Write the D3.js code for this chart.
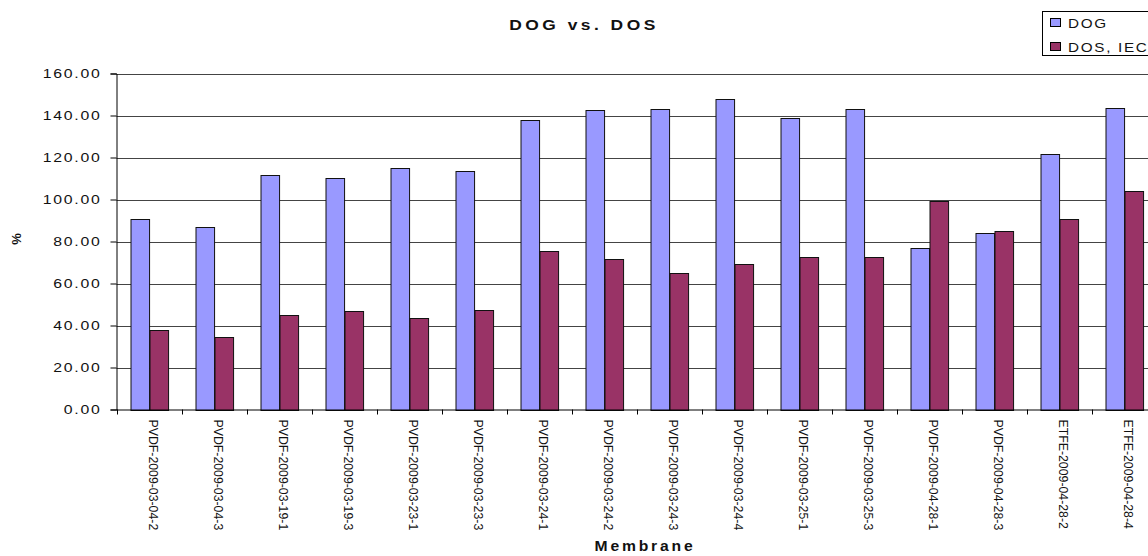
<!DOCTYPE html>
<html>
<head>
<meta charset="utf-8">
<script src="https://cdn.jsdelivr.net/npm/d3@7"></script>
<style>
  html, body { margin: 0; padding: 0; background: #fff; }
  svg { display: block; font-family: Arial, "Liberation Sans", sans-serif; }
</style>
</head>
<body>
<svg id="chart" width="1148" height="556"></svg>
<script>
// Membrane samples on the category axis
const categories = [
  "PVDF-2009-03-04-2", "PVDF-2009-03-04-3", "PVDF-2009-03-19-1", "PVDF-2009-03-19-3",
  "PVDF-2009-03-23-1", "PVDF-2009-03-23-3", "PVDF-2009-03-24-1", "PVDF-2009-03-24-2",
  "PVDF-2009-03-24-3", "PVDF-2009-03-24-4", "PVDF-2009-03-25-1", "PVDF-2009-03-25-3",
  "PVDF-2009-04-28-1", "PVDF-2009-04-28-3", "ETFE-2009-04-28-2", "ETFE-2009-04-28-4"
];
const seriesNames = ["DOG", "DOS, IEC"];
const dogValues = [90.5, 86.7, 111.7, 110.3, 114.9, 113.8, 137.8, 142.5,
                   143.0, 147.9, 138.7, 143.0, 76.7, 84.1, 121.7, 143.6];
const dosValues = [37.8, 34.4, 45.2, 46.8, 43.5, 47.3, 75.5, 71.7,
                   64.9, 69.2, 72.7, 72.4, 99.5, 85.2, 90.9, 104.1];
const yTicks = [0, 20, 40, 60, 80, 100, 120, 140, 160];
const seriesColors = ["#9999FF", "#993366"];

const svg = d3.select("#chart");

const plotLeft = 116.5, plotRight = 1156.5, plotTop = 73.5, plotBottom = 409.5;

// Horizontal text is drawn slightly wide, like the exported chart's typeface
function widen(sel, k) {
  sel.each(function () {
    const w = this.getComputedTextLength();
    d3.select(this).attr("textLength", w * k).attr("lengthAdjust", "spacingAndGlyphs");
  });
}

const x0 = d3.scaleBand().domain(categories).range([plotLeft, plotRight]).padding(0);
const x1 = d3.scaleBand().domain(seriesNames).range([0, x0.bandwidth()])
  .paddingInner(0).paddingOuter(0.75);
const y = d3.scaleLinear().domain([0, 160]).range([plotBottom, plotTop]);
const color = d3.scaleOrdinal().domain(seriesNames).range(seriesColors);

// Horizontal gridlines
svg.append("g")
  .selectAll("line")
  .data(yTicks.filter(t => t > 0))
  .join("line")
  .attr("x1", plotLeft).attr("x2", plotRight)
  .attr("y1", d => Math.round(y(d)) + 0.5).attr("y2", d => Math.round(y(d)) + 0.5)
  .attr("stroke", "#444").attr("stroke-width", 1);

// Bars
const rows = categories.map((c, i) => ({ cat: c, vals: [dogValues[i], dosValues[i]] }));
const groups = svg.append("g").selectAll("g")
  .data(rows)
  .join("g")
  .attr("transform", d => `translate(${x0(d.cat)},0)`);

groups.selectAll("rect")
  .data(d => seriesNames.map((s, k) => ({ s, v: d.vals[k] })))
  .join("rect")
  .attr("x", d => Math.round(x1(d.s)) + 0.5)
  .attr("width", x1.bandwidth())
  .attr("y", d => Math.round(y(d.v)) + 0.5)
  .attr("height", d => Math.round(y(0)) - Math.round(y(d.v)))
  .attr("fill", d => color(d.s))
  .attr("stroke", "#111")
  .attr("stroke-width", 1);

// Y axis
const yAxis = d3.axisLeft(y).tickValues(yTicks).tickFormat(d3.format(".2f")).tickSize(6).tickPadding(10);
const gy = svg.append("g").attr("transform", `translate(${plotLeft},0)`).call(yAxis);
gy.select(".domain").attr("stroke", "#000");
gy.selectAll(".tick line").attr("stroke", "#000");
gy.selectAll(".tick text")
  .attr("fill", "#111")
  .style("font-size", "13.5px")
  .style("letter-spacing", "1.5px")
  .attr("dx", "1px")
  .call(widen, 1.17);

// X axis: labels centred on each band, tick marks on band edges
const xAxis = d3.axisBottom(x0).tickSize(0).tickPadding(0);
const gx = svg.append("g").attr("transform", `translate(0,${plotBottom})`).call(xAxis);
gx.select(".domain").attr("stroke", "#000").attr("d", `M${plotLeft},0.5H${plotRight}`);
gx.selectAll(".tick text")
  .attr("fill", "#111")
  .style("font-size", "12.3px")
  .attr("text-anchor", "start")
  .attr("transform", "translate(4,10) rotate(90)")
  .attr("x", 0).attr("y", 0).attr("dy", "0.35em");

svg.append("g").selectAll("line")
  .data(categories.map(c => x0(c)).concat([plotRight]))
  .join("line")
  .attr("x1", d => Math.round(d) + 0.5).attr("x2", d => Math.round(d) + 0.5)
  .attr("y1", plotBottom).attr("y2", plotBottom + 5)
  .attr("stroke", "#000");

// Titles
svg.append("text")
  .attr("x", 584).attr("y", 30)
  .attr("text-anchor", "middle")
  .style("font-size", "15px").style("font-weight", "bold")
  .style("letter-spacing", "3px")
  .attr("fill", "#111")
  .text("DOG vs. DOS")
  .call(widen, 1.16);

svg.append("text")
  .attr("x", 645).attr("y", 551)
  .attr("text-anchor", "middle")
  .style("font-size", "14px").style("font-weight", "bold")
  .style("letter-spacing", "2.5px")
  .attr("fill", "#111")
  .text("Membrane")
  .call(widen, 1.12);

svg.append("text")
  .attr("transform", "translate(21,239) rotate(-90)")
  .attr("text-anchor", "middle")
  .style("font-size", "13px").style("font-weight", "bold")
  .attr("fill", "#111")
  .text("%");

// Legend
const legend = svg.append("g");
legend.append("rect")
  .attr("x", 1042.5).attr("y", 11.5).attr("width", 120).attr("height", 44)
  .attr("fill", "#fff").attr("stroke", "#000");
const items = legend.selectAll("g.item")
  .data(seriesNames)
  .join("g").attr("class", "item")
  .attr("transform", (d, i) => `translate(0,${i * 24})`);
items.append("rect")
  .attr("x", 1050.5).attr("y", 18.5).attr("width", 10).attr("height", 8)
  .attr("fill", d => color(d)).attr("stroke", "#000");
items.append("text")
  .attr("x", 1068).attr("y", 27.5)
  .style("font-size", "13.5px")
  .style("letter-spacing", "1.5px")
  .attr("fill", "#111")
  .text(d => d)
  .call(widen, 1.13);
</script>
</body>
</html>
